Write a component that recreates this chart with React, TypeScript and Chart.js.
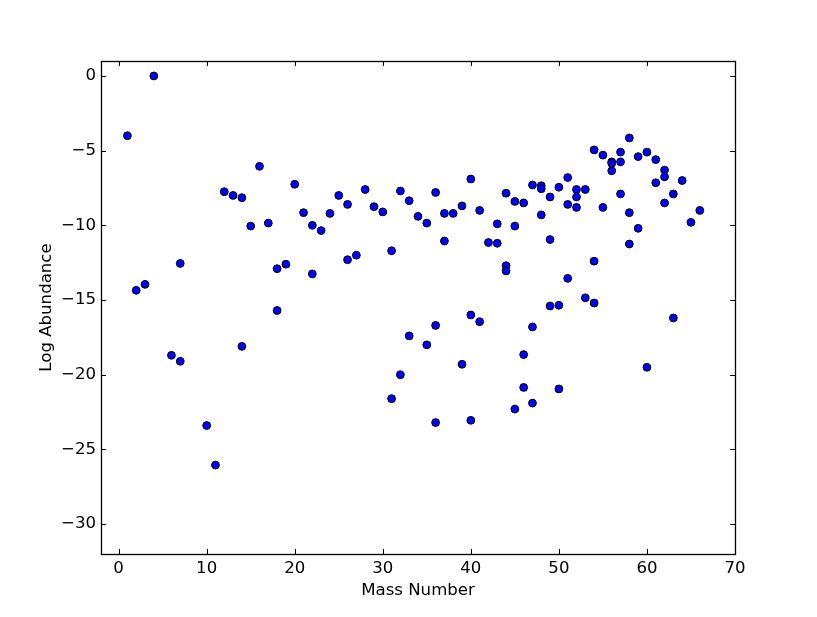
import React, { useEffect, useRef } from "react";
import { Chart, registerables } from "chart.js";

Chart.register(...registerables);

const massNumber: number[] = [
  1, 2, 3, 4, 6, 7, 7, 10, 11, 12, 13, 14, 14, 15, 16, 17, 18, 18, 19, 20,
  21, 22, 22, 23, 24, 25, 26, 26, 27, 28, 29, 30, 31, 31, 32, 32, 33, 33, 34, 35,
  35, 36, 36, 36, 37, 37, 38, 39, 39, 40, 40, 40, 41, 41, 42, 43, 43, 44, 44, 44,
  45, 45, 45, 46, 46, 46, 47, 47, 47, 48, 48, 48, 49, 49, 49, 50, 50, 50, 51, 51,
  51, 52, 52, 52, 53, 53, 54, 54, 54, 55, 55, 56, 56, 56, 57, 57, 57, 58, 58, 58,
  59, 59, 60, 60, 61, 61, 62, 62, 62, 63, 63, 64, 65, 66,
];

const logAbundance: number[] = [
  -4.0, -14.35, -13.95, 0.0, -18.7, -12.55, -19.1, -23.4, -26.05, -7.75, -8.0, -8.15, -18.1, -10.05, -6.05, -9.85, -12.9, -15.7, -12.6, -7.25,
  -9.15, -10.0, -13.25, -10.35, -9.2, -8.0, -8.6, -12.3, -12.0, -7.6, -8.75, -9.1, -11.7, -21.6, -7.7, -20.0, -8.35, -17.4, -9.4, -9.85,
  -18.0, -7.8, -16.7, -23.2, -9.2, -11.05, -9.2, -8.7, -19.3, -6.9, -16.0, -23.05, -9.0, -16.45, -11.15, -9.9, -11.2, -7.85, -12.7, -13.05,
  -8.4, -10.05, -22.3, -8.5, -18.65, -20.85, -7.3, -16.8, -21.9, -7.35, -7.55, -9.3, -8.1, -10.95, -15.4, -7.45, -15.35, -20.95, -6.8, -8.6,
  -13.55, -7.6, -8.1, -8.8, -7.6, -14.85, -4.95, -12.4, -15.2, -5.3, -8.8, -5.75, -5.85, -6.35, -5.1, -5.75, -7.9, -4.15, -9.15, -11.25,
  -5.4, -10.2, -5.1, -19.5, -5.6, -7.15, -6.3, -6.75, -8.5, -7.9, -16.2, -7.0, -9.8, -9.0,
];

const xLabel = "Mass Number";
const yLabel = "Log Abundance";
const xMin = -2;
const xMax = 70;
const xStep = 10;
const yMin = -32;
const yMax = 1;
const yStep = 5;

const FONT = "'DejaVu Sans', sans-serif";
const FS = 16.6;

const fmt = (v: number | string) => {
  const n = Number(v);
  return n < 0 ? "\u2212" + Math.abs(n) : String(n);
};

const frameTicks = {
  id: "frameTicks",
  afterDraw(chart: any) {
    const { ctx, chartArea } = chart;
    const { left, right, top, bottom } = chartArea;
    const xs = chart.scales.x;
    const ys = chart.scales.y;
    const len = 5;
    ctx.save();
    ctx.strokeStyle = "#000";
    ctx.lineWidth = 1;
    ctx.beginPath();
    xs.ticks.forEach((t: any) => {
      const px = Math.round(xs.getPixelForValue(t.value)) + 0.5;
      ctx.moveTo(px, bottom);
      ctx.lineTo(px, bottom - len);
      ctx.moveTo(px, top);
      ctx.lineTo(px, top + len);
    });
    ys.ticks.forEach((t: any) => {
      const py = Math.round(ys.getPixelForValue(t.value)) + 0.5;
      ctx.moveTo(left, py);
      ctx.lineTo(left + len, py);
      ctx.moveTo(right, py);
      ctx.lineTo(right - len, py);
    });
    ctx.stroke();
    ctx.lineWidth = 1.3;
    ctx.strokeRect(Math.round(left) + 0.5, Math.round(top) + 0.5, Math.round(right - left), Math.round(bottom - top));
    ctx.restore();
  },
};

export default function App() {
  const ref = useRef<HTMLCanvasElement | null>(null);

  useEffect(() => {
    document.body.style.margin = "0";
    const points = massNumber.map((m, i) => ({ x: m, y: logAbundance[i] }));
    const chart = new Chart(ref.current as HTMLCanvasElement, {
      type: "scatter",
      data: {
        datasets: [
          {
            data: points,
            backgroundColor: "#0000ff",
            borderColor: "#000000",
            borderWidth: 1,
            pointRadius: 3.9,
            pointHoverRadius: 3.9,
          },
        ],
      },
      options: {
        animation: false,
        responsive: true,
        maintainAspectRatio: false,
        layout: { padding: { top: 61, right: 82, left: 0, bottom: 0 } },
        plugins: { legend: { display: false }, tooltip: { enabled: false } },
        scales: {
          x: {
            type: "linear",
            min: xMin,
            max: xMax,
            grid: { display: false, drawTicks: false },
            border: { display: false },
            ticks: {
              stepSize: xStep,
              includeBounds: false,
              padding: 5,
              color: "#000",
              font: { family: FONT, size: FS },
              maxRotation: 0,
              callback: (v: any) => fmt(v),
            },
            title: {
              display: true,
              text: xLabel,
              color: "#000",
              font: { family: FONT, size: FS },
              padding: { top: 0, bottom: 16 },
            },
            afterFit: (s: any) => {
              s.height = 63;
            },
          },
          y: {
            type: "linear",
            min: yMin,
            max: yMax,
            grid: { display: false, drawTicks: false },
            border: { display: false },
            ticks: {
              stepSize: yStep,
              includeBounds: false,
              padding: 5,
              color: "#000",
              font: { family: FONT, size: FS },
              callback: (v: any) => fmt(v),
            },
            title: {
              display: true,
              text: yLabel,
              color: "#000",
              font: { family: FONT, size: FS },
              padding: { top: 36.5, bottom: 0 },
            },
            afterFit: (s: any) => {
              s.width = 101;
            },
          },
        },
      },
      plugins: [frameTicks],
    });
    return () => chart.destroy();
  }, []);

  return (
    <div style={{ position: "fixed", left: 0, top: 0, width: 817, height: 617, background: "#fff" }}>
      <canvas ref={ref} />
    </div>
  );
}
